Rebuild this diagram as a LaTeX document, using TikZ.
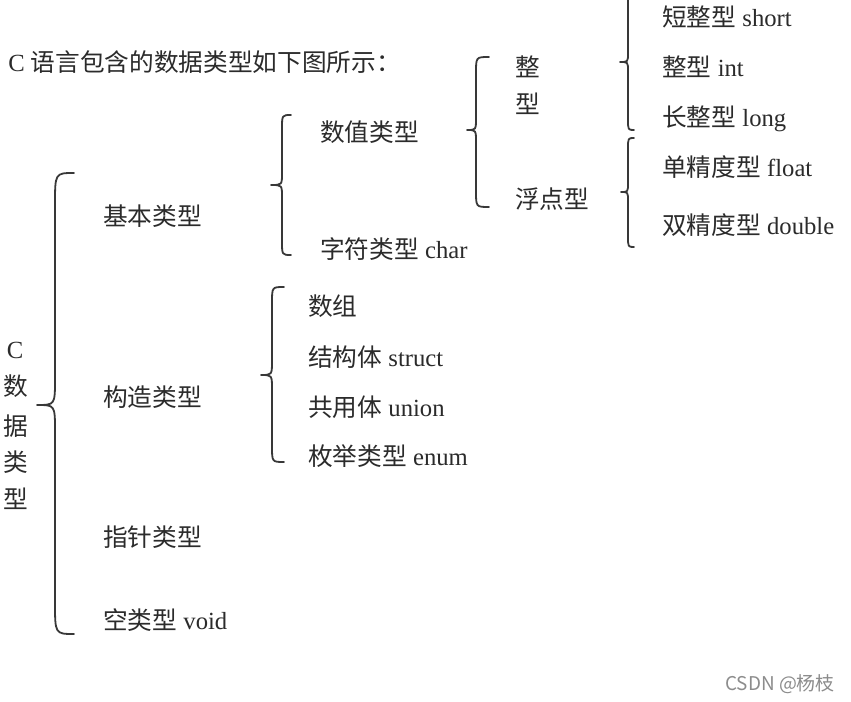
\documentclass[tikz,border=0pt]{standalone}
\usepackage{fontspec}
\setmainfont{Liberation Serif}
\newfontfamily\cjk{Noto Sans CJK SC}
\definecolor{txtc}{HTML}{2B2B2B}
\definecolor{brcc}{HTML}{383838}
\definecolor{wmc}{HTML}{8C8C8C}
\newcommand\mybrace[8]{%
  \draw[brc] (#1,#4) .. controls (#2,#4) .. (#2,#4+#7) -- (#2,#5-#8)
    .. controls (#2,#5) .. (#3,#5) .. controls (#2,#5) .. (#2,#5+#8)
    -- (#2,#6-#7) .. controls (#2,#6) .. (#1,#6);}
\tikzset{
  lbl/.style={anchor=base west, inner sep=0pt, text=txtc, font=\fontsize{18.5}{22}\selectfont},
  vlbl/.style={lbl, anchor=base},
  brc/.style={draw=brcc, line width=1.35pt, line cap=round, line join=round},
  wm/.style={anchor=base west, inner sep=0pt, text=wmc, font=\cjk\fontsize{14.2}{16}\selectfont}
}
\begin{document}
\begin{tikzpicture}[x=0.75pt, y=-0.75pt]
\useasboundingbox (0,0) rectangle (851,702);
\fill[white] (0,0) rectangle (851,702);
\clip (0,0) rectangle (851,702);

% title
\node[lbl] (title) at (8,72) {C {\cjk 语言包含的数据类型如下图所示：}};

% root label
\node[vlbl] (cC) at (15,359) {C};
\node[vlbl] (cShu) at (16,396) {\cjk 数};
\node[vlbl] (cJu) at (16,436) {\cjk 据};
\node[vlbl] (cLei) at (16,472) {\cjk 类};
\node[vlbl] (cXing) at (16,509) {\cjk 型};

% level 1
\node[lbl] (basic) at (103,226) {\cjk 基本类型};
\node[lbl] (construct) at (103,407) {\cjk 构造类型};
\node[lbl] (pointer) at (103,547) {\cjk 指针类型};
\node[lbl] (void) at (103,630) {{\cjk 空类型} void};

% level 2
\node[lbl] (numeric) at (320,142) {\cjk 数值类型};
\node[lbl] (char) at (320,259) {{\cjk 字符类型} char};
\node[lbl] (array) at (308,316) {\cjk 数组};
\node[lbl] (struct) at (308,367) {{\cjk 结构体} struct};
\node[lbl] (union) at (308,417) {{\cjk 共用体} union};
\node[lbl] (enum) at (308,466) {{\cjk 枚举类型} enum};

% level 3
\node[lbl] (zheng1) at (515,77) {\cjk 整};
\node[lbl] (zheng2) at (515,114) {\cjk 型};
\node[lbl] (float) at (515,209) {\cjk 浮点型};

% level 4
\node[lbl] (short) at (662,27) {{\cjk 短整型} short};
\node[lbl] (int) at (662,77) {{\cjk 整型} int};
\node[lbl] (long) at (662,127) {{\cjk 长整型} long};
\node[lbl] (fl) at (662,177) {{\cjk 单精度型} float};
\node[lbl] (dbl) at (662,235) {{\cjk 双精度型} double};

% watermark
\node[wm] (csdn) at (725,691) {CSDN @杨枝};

% braces
\mybrace{74}{55}{37}{173}{405}{634}{32}{26}
\mybrace{291}{282}{271}{115}{185}{255}{14}{12}
\mybrace{284}{272}{261}{287}{375}{462}{16}{14}
\mybrace{489}{476}{467}{57}{130}{207}{16}{12}
\mybrace{634}{628}{620}{-6}{62}{130}{11}{9}
\mybrace{634}{628}{621}{138}{192}{247}{11}{9}
\end{tikzpicture}
\end{document}
